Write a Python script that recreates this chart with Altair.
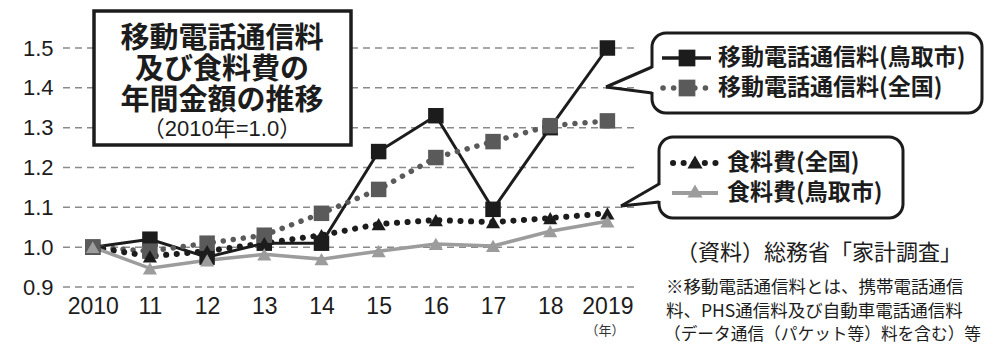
import altair as alt
import pandas as pd

years = [2010, 2011, 2012, 2013, 2014, 2015, 2016, 2017, 2018, 2019]
x_labels = ["2010", "11", "12", "13", "14", "15", "16", "17", "18", "2019"]
mobile_tottori = [1.00, 1.02, 0.975, 1.01, 1.01, 1.24, 1.33, 1.095, 1.30, 1.50]
mobile_national = [1.00, 0.99, 1.01, 1.03, 1.085, 1.145, 1.225, 1.265, 1.305, 1.317]
food_national = [1.00, 0.977, 0.99, 1.01, 1.03, 1.058, 1.068, 1.063, 1.073, 1.085]
food_tottori = [1.00, 0.947, 0.967, 0.982, 0.97, 0.99, 1.008, 1.003, 1.04, 1.065]
y_ticks = [0.9, 1.0, 1.1, 1.2, 1.3, 1.4, 1.5]

names = ["移動電話通信料(鳥取市)", "移動電話通信料(全国)", "食料費(全国)", "食料費(鳥取市)"]

X0, Y0 = 63, 48
W, H = 573, 239
BLACK = "#1c1c1c"
DGRAY = "#5a5a5a"
LGRAY = "#9c9c9c"
JP = "Noto Sans CJK JP"
MIX = "Liberation Sans, Noto Sans CJK JP"


def df_of(vals):
    return pd.DataFrame({"year": years, "value": vals})


xs = alt.X("year:Q", scale=alt.Scale(domain=[2009.48, 2019.5], nice=False, zero=False),
           axis=alt.Axis(values=years, tickCount=20, title=None, grid=False, domain=False, ticks=False,
                         labelExpr="[" + ",".join("'%s'" % s for s in x_labels) + "][datum.value-2010]",
                         labelFont="Liberation Sans", labelFontSize=23, labelColor=BLACK,
                         labelPadding=8, labelFlush=False, labelOverlap=False))
ys = alt.Y("value:Q", scale=alt.Scale(domain=[0.9, 1.5], nice=False, zero=False),
           axis=alt.Axis(values=y_ticks, tickCount=20, format=".1f", title=None, domain=False, ticks=False,
                         grid=False, labelOverlap=False,
                         labelFont="Liberation Sans", labelFontSize=22, labelColor=BLACK,
                         labelPadding=10))

one = pd.DataFrame({"a": [0]})


def px(x):
    return alt.value(x - X0)


def py(y):
    return alt.value(y - Y0)


def text(t, x, y, size, weight="normal", align="left", font=JP, color=BLACK):
    return alt.Chart(one).mark_text(text=t, fontSize=size, fontWeight=weight, align=align,
                                    baseline="middle", font=font, color=color).encode(x=px(x), y=py(y))


def rule(x1, y1, x2, y2, color=BLACK, width=3, dash=None, cap="butt"):
    kw = dict(color=color, strokeWidth=width, strokeCap=cap)
    if dash:
        kw["strokeDash"] = dash
    return alt.Chart(one).mark_rule(**kw).encode(x=px(x1), y=py(y1), x2=px(x2), y2=py(y2))


def sym(x, y, shape, color, size):
    return alt.Chart(one).mark_point(shape=shape, filled=True, color=color, size=size, opacity=1).encode(
        x=px(x), y=py(y))


def box(x1, y1, x2, y2, radius, width):
    return alt.Chart(one).mark_rect(fill="white", stroke=BLACK, strokeWidth=width, cornerRadius=radius).encode(
        x=px(x1), y=py(y1), x2=px(x2), y2=py(y2))


# base with axes
base = alt.Chart(df_of(mobile_tottori)).mark_line(opacity=0).encode(x=xs, y=ys)

# gridlines from the tick values
grid = alt.Chart(pd.DataFrame({"v": y_ticks})).mark_rule(
    color="#8a8a8a", strokeWidth=1.5, strokeDash=[7, 5]).encode(
    y="v:Q", x=alt.value(0), x2=alt.value(W))

dot1 = [0.1, 10]
dot2 = [0.1, 10.5]

l_mt = alt.Chart(df_of(mobile_tottori)).mark_line(color=BLACK, strokeWidth=3).encode(x="year:Q", y="value:Q")
p_mt = alt.Chart(df_of(mobile_tottori)).mark_point(shape="square", filled=True, color=BLACK, size=240, opacity=1).encode(x="year:Q", y="value:Q")
l_mn = alt.Chart(df_of(mobile_national)).mark_line(color=DGRAY, strokeWidth=5.5, strokeDash=dot1, strokeCap="round").encode(x="year:Q", y="value:Q")
p_mn = alt.Chart(df_of(mobile_national)).mark_point(shape="square", filled=True, color=DGRAY, size=240, opacity=1).encode(x="year:Q", y="value:Q")
l_fn = alt.Chart(df_of(food_national)).mark_line(color=BLACK, strokeWidth=6, strokeDash=dot2, strokeCap="round").encode(x="year:Q", y="value:Q")
p_fn = alt.Chart(df_of(food_national)).mark_point(shape="triangle-up", filled=True, color=BLACK, size=200, opacity=1).encode(x="year:Q", y="value:Q")
l_ft = alt.Chart(df_of(food_tottori)).mark_line(color=LGRAY, strokeWidth=3.5).encode(x="year:Q", y="value:Q")
p_ft = alt.Chart(df_of(food_tottori)).mark_point(shape="triangle-up", filled=True, color=LGRAY, size=200, opacity=1).encode(x="year:Q", y="value:Q")

# title box
title_layers = [
    box(94, 11, 351, 145, 0, 3.5),
    text("移動電話通信料", 222, 39, 29, "bold", "center"),
    text("及び食料費の", 222, 70, 29, "bold", "center"),
    text("年間金額の推移", 222, 101, 29, "bold", "center"),
    text("（2010年=1.0）", 222, 129, 22, "normal", "center", font=MIX),
]

# legend box 1
leg1 = [
    box(652, 33, 982, 113, 14, 3),
    rule(652, 68, 652, 92, color="white", width=6),
    rule(606, 87, 652, 67),
    rule(606, 87, 652, 93),
    rule(662, 58, 711, 58, width=3.5),
    sym(687, 58, "square", BLACK, 280),
    rule(663, 88, 711, 88, color=DGRAY, width=5.5, dash=[0.1, 10.5], cap="round"),
    sym(687, 88, "square", DGRAY, 280),
    text(names[0], 718, 58, 23, "bold"),
    text(names[1], 718, 88, 23, "bold"),
]

# legend box 2
leg2 = [
    box(659, 137, 903, 218, 14, 3),
    rule(659, 185, 659, 201, color="white", width=6),
    rule(621, 206, 659, 184),
    rule(621, 206, 659, 202),
    rule(673, 163, 718, 163, color=BLACK, width=6, dash=[0.1, 10.5], cap="round"),
    sym(695, 162, "triangle-up", BLACK, 230),
    rule(672, 193, 718, 193, color=LGRAY, width=4),
    sym(695, 191, "triangle-up", LGRAY, 230),
    text(names[2], 727, 163, 23, "bold"),
    text(names[3], 727, 193, 23, "bold"),
]

notes = [
    text("（年）", 605, 331, 13, "normal", "center", color="#333333"),
    text("（資料）総務省「家計調査」", 676, 253, 22),
    text("※移動電話通信料とは、携帯電話通信", 666, 288, 17.5),
    text("料、PHS通信料及び自動車電話通信料", 666, 312, 17.5),
    text("（データ通信（パケット等）料を含む）等", 664, 335, 16.7),
]

chart = alt.layer(
    base, grid, *title_layers,
    l_mt, l_mn, l_fn, l_ft,
    p_mt, p_mn, p_fn, p_ft,
    *leg1, *leg2, *notes,
).properties(
    width=W, height=H,
    padding={"left": X0, "top": Y0, "right": 992 - X0 - W, "bottom": 355 - Y0 - H},
    autosize=alt.AutoSizeParams(type="none"),
    background="white",
).configure_view(stroke=None)

chart.save("out.html", embed_options={"renderer": "svg", "actions": False})
